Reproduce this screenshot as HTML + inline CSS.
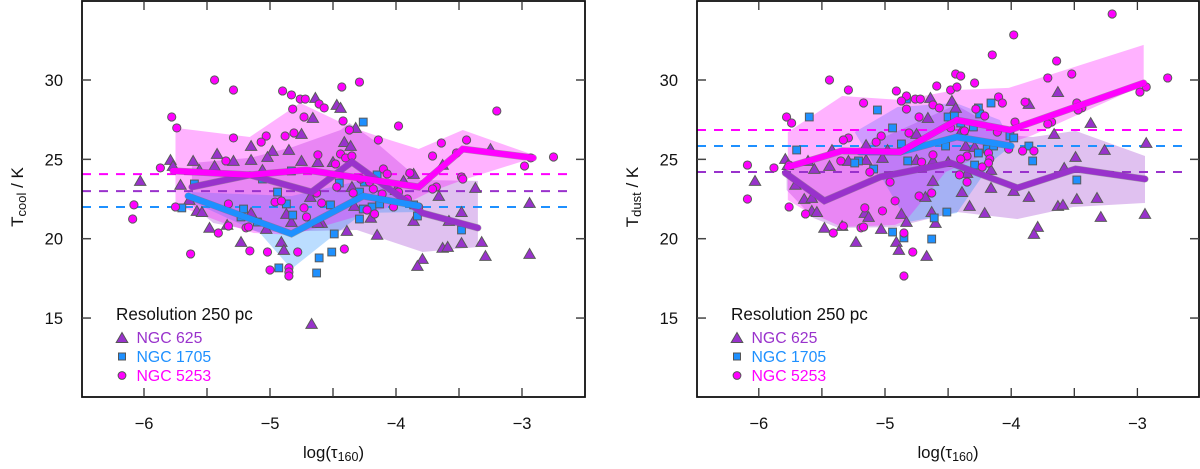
<!DOCTYPE html>
<html lang="en">
<head>
<meta charset="utf-8">
<title>Dust temperature versus optical depth</title>
<style>
html,body{margin:0;padding:0;background:#fff;width:1200px;height:469px;overflow:hidden}
svg{display:block;font-family:"Liberation Sans",Arial,sans-serif}
</style>
</head>
<body>
<svg id="chart" width="1200" height="469" viewBox="0 0 1200 469" xmlns="http://www.w3.org/2000/svg">
  <g id="panel-left"></g>
  <g id="panel-right"></g>

  <text x="23" y="197" transform="rotate(-90 23 197)" text-anchor="middle" font-size="17" fill="#111">T<tspan font-size="13" dy="3">cool</tspan><tspan dy="-3"> / K</tspan></text>
  <text x="638" y="197" transform="rotate(-90 638 197)" text-anchor="middle" font-size="17" fill="#111">T<tspan font-size="13" dy="3">dust</tspan><tspan dy="-3"> / K</tspan></text>
  <text x="333.5" y="458" text-anchor="middle" font-size="16.8" fill="#111">log(τ<tspan font-size="12.5" dy="3">160</tspan><tspan dy="-3">)</tspan></text>
  <text x="948" y="458" text-anchor="middle" font-size="16.8" fill="#111">log(τ<tspan font-size="12.5" dy="3">160</tspan><tspan dy="-3">)</tspan></text>

  <g>
    <text x="116" y="320" font-size="17.1" fill="#111">Resolution 250 pc</text>
    <polygon points="122,332.5 127.8,342.5 116.2,342.5" fill="#9932cc" stroke="#555" stroke-width="1"/>
    <text x="136.5" y="343" font-size="15.8" fill="#9932cc">NGC 625</text>
    <rect x="118.5" y="353" width="7" height="7" fill="#1e90ff" stroke="#555" stroke-width="1"/>
    <text x="136.5" y="362" font-size="15.8" fill="#1e90ff">NGC 1705</text>
    <circle cx="122" cy="375.5" r="3.9" fill="#ff00ff" stroke="#555" stroke-width="1"/>
    <text x="136.5" y="381" font-size="15.8" fill="#ff00ff">NGC 5253</text>
  </g>
  <g>
    <text x="731" y="320" font-size="17.1" fill="#111">Resolution 250 pc</text>
    <polygon points="737,332.5 742.8,342.5 731.2,342.5" fill="#9932cc" stroke="#555" stroke-width="1"/>
    <text x="751.5" y="343" font-size="15.8" fill="#9932cc">NGC 625</text>
    <rect x="733.5" y="353" width="7" height="7" fill="#1e90ff" stroke="#555" stroke-width="1"/>
    <text x="751.5" y="362" font-size="15.8" fill="#1e90ff">NGC 1705</text>
    <circle cx="737" cy="375.5" r="3.9" fill="#ff00ff" stroke="#555" stroke-width="1"/>
    <text x="751.5" y="381" font-size="15.8" fill="#ff00ff">NGC 5253</text>
  </g>
</svg>
<script>
// ---------- axis ticks ----------
const xTickValues = [-6.5,-6,-5.5,-5,-4.5,-4,-3.5,-3,-2.5];
const xTickLabels = ['−6','−5','−4','−3'];
const xTickLabelValues = [-6,-5,-4,-3];
const yTickValues = [15,20,25,30];
const yTickLabels = ['15','20','25','30'];

// ---------- T_cool panel: reference levels ----------
const coolMeanNgc625 = 23.0;
const coolMeanNgc1705 = 22.0;
const coolMeanNgc5253 = 24.07;

// ---------- T_cool panel: points ----------
const coolNgc625X = [-4.64,-4.47,-4.44,-4.66,-4.75,-4.85,-4.98,-5.02,-5.15,-5.15,-5.29,-5.42,-5.44,-5.61,-5.56,-5.79,-5.77,-6.03,-5.71,-4.75,-4.62,-4.50,-5.06,-4.68,-5.64,-5.58,-5.54,-5.48,-5.34,-5.23,-5.15,-5.03,-4.91,-4.89,-4.87,-4.83,-4.59,-4.62,-4.67,-4.32,-4.41,-4.36,-4.35,-3.94,-3.86,-3.63,-3.25,-3.66,-3.37,-4.0,-2.94,-3.48,-3.86,-3.58,-4.20,-4.33,-4.39,-4.15,-3.48,-3.32,-3.63,-3.59,-2.94,-3.29,-3.79,-3.83];
const coolNgc625Y = [28.87,28.43,28.24,27.61,26.60,25.59,25.53,25.15,25.84,24.96,24.90,25.34,24.58,24.90,24.33,24.96,24.58,23.64,23.39,24.90,24.83,24.83,24.33,22.63,22.44,21.75,21.68,20.68,20.87,19.79,21.62,20.61,19.79,19.29,21.56,21.05,20.99,20.99,14.63,26.98,26.09,25.84,23.26,23.64,24.08,24.65,25.65,22.69,23.20,23.07,22.25,21.68,21.12,21.12,21.31,22.06,20.49,20.24,19.73,19.79,19.42,19.48,19.04,18.91,18.72,18.28];
const coolNgc1705X = [-5.60,-4.94,-5.06,-4.83,-5.70,-5.21,-5.23,-5.10,-4.87,-4.82,-4.52,-4.49,-4.51,-4.61,-4.63,-4.93,-4.26,-4.15,-4.45,-4.29,-4.25,-4.26,-4.19,-4.13,-4.29,-3.83,-3.86,-3.48];
const coolNgc1705Y = [23.45,22.94,23.76,24.27,21.94,21.87,21.37,21.05,22.19,21.49,22.13,20.30,19.16,18.79,17.84,18.16,27.35,24.02,23.51,22.94,23.57,21.87,22.0,22.19,21.24,21.43,22.13,20.55];
const coolNgc5253X = [-5.44,-5.29,-4.90,-4.83,-4.76,-4.72,-4.61,-4.57,-4.82,-4.73,-5.78,-5.74,-5.29,-5.03,-5.07,-4.88,-4.81,-4.62,-5.35,-5.87,-4.48,-4.43,-4.29,-6.08,-6.09,-5.75,-5.33,-4.96,-4.91,-4.63,-4.59,-4.73,-4.47,-5.63,-5.41,-5.33,-5.19,-5.17,-5.16,-5.02,-4.78,-5.0,-4.85,-4.85,-4.85,-4.71,-4.42,-4.37,-3.98,-4.14,-3.20,-3.44,-3.64,-3.71,-4.44,-4.40,-4.35,-4.10,-4.07,-3.89,-3.52,-2.93,-2.75,-2.98,-3.48,-3.47,-3.68,-3.71,-4.18,-4.21,-4.28,-4.11,-3.98,-3.91,-4.34,-4.02,-3.82,-4.23,-4.17,-4.41];
const coolNgc5253Y = [30,29.37,29.31,29.06,28.80,28.80,28.49,28.24,28.17,27.67,27.67,26.98,26.35,26.47,26.09,26.47,26.66,25.28,24.90,24.46,24.71,29.56,29.87,22.13,21.24,22.0,22.19,22.31,22.38,22.88,22.25,21.94,23.26,19.04,20.36,20.80,20.68,20.74,19.23,19.16,19.16,18.03,18.16,17.90,17.65,21.37,27.42,26.85,27.10,26.22,28.05,26.22,26.03,25.21,25.34,25.09,25.21,24.39,24.08,24.14,25.40,25.09,25.15,24.58,23.89,23.76,23.26,23.13,23.13,23.57,23.76,22.82,22.94,22.50,22.88,22.0,22.0,21.81,21.56,19.35];

// ---------- T_cool panel: median lines ----------
const coolLineNgc625X = [-5.62,-5.16,-4.67,-4.35,-3.79,-3.35];
const coolLineNgc625Y = [23.26,24.02,22.94,24.83,21.62,20.68];
const coolLineNgc1705X = [-5.65,-4.83,-4.26,-3.82];
const coolLineNgc1705Y = [22.69,20.30,22.69,22.06];
const coolLineNgc5253X = [-5.77,-5.16,-4.71,-3.82,-3.47,-2.91];
const coolLineNgc5253Y = [24.27,24.02,24.33,23.26,25.65,25.09];

// ---------- T_cool panel: shaded ranges ----------
const coolBandNgc625UpperX = [-5.62,-5.16,-4.82,-4.44,-4.37,-4.18,-3.81,-3.35];
const coolBandNgc625UpperY = [24.77,25.09,25.78,26.85,27.29,26.22,23.70,23.64];
const coolBandNgc625LowerX = [-5.62,-5.45,-5.08,-4.31,-3.79,-3.35];
const coolBandNgc625LowerY = [22.13,20.99,20.42,20.55,19.16,19.48];
const coolBandNgc1705UpperX = [-5.65,-4.83,-4.26,-3.82];
const coolBandNgc1705UpperY = [22.94,22.69,23.70,22.25];
const coolBandNgc1705LowerX = [-5.65,-5.08,-4.83,-4.52,-4.26,-3.81];
const coolBandNgc1705LowerY = [22.44,20.36,18.09,20.05,21.62,21.68];
const coolBandNgc5253UpperX = [-5.75,-5.16,-4.76,-4.36,-4.05,-3.82,-3.47,-2.91];
const coolBandNgc5253UpperY = [26.98,26.41,28.55,27.04,26.22,25.65,26.85,25.28];
const coolBandNgc5253LowerX = [-5.75,-5.37,-5.13,-4.83,-4.60,-3.86,-3.75,-3.47,-2.91];
const coolBandNgc5253LowerY = [22.13,20.99,20.36,20.24,20.74,22.44,22.88,23.70,25.09];

// ---------- T_dust panel: reference levels ----------
const dustMeanNgc625 = 24.2;
const dustMeanNgc1705 = 25.84;
const dustMeanNgc5253 = 26.85;

// ---------- T_dust panel: points ----------
const dustNgc625X = [-4.64,-4.47,-4.44,-4.66,-4.75,-5.15,-4.98,-5.02,-5.15,-5.29,-5.42,-5.44,-5.61,-5.56,-5.79,-5.77,-4.75,-4.62,-4.50,-6.03,-5.71,-5.64,-5.58,-5.58,-5.54,-5.48,-5.34,-5.23,-5.16,-5.13,-5.03,-4.91,-4.89,-4.87,-4.83,-4.68,-4.62,-4.63,-4.60,-4.67,-4.39,-4.36,-4.29,-3.86,-3.63,-3.37,-3.66,-3.49,-3.26,-2.93,-3.58,-4.16,-4.35,-4.39,-4.16,-3.98,-3.86,-4.33,-4.21,-3.63,-3.59,-3.48,-3.32,-3.29,-2.94,-3.79,-3.82];
const dustNgc625Y = [28.87,28.68,28.24,27.61,26.60,25.90,25.59,25.09,24.96,24.90,25.59,24.58,24.90,24.39,25.02,24.64,24.96,24.90,24.83,23.64,23.39,22.50,22.57,21.75,21.68,20.68,20.80,19.79,21.62,21.37,20.61,19.79,19.29,21.56,21.05,22.63,23.64,21.68,20.99,18.91,26.85,25.84,25.78,28.49,29.24,27.29,26.60,25.15,25.59,26.03,24.46,24.33,24.14,22.94,23.20,23.01,22.63,22.06,21.62,22.06,22.13,22.50,22.57,21.37,21.56,20.74,20.30];
const dustNgc1705X = [-5.60,-5.06,-4.94,-4.83,-4.50,-4.45,-5.70,-4.87,-5.21,-5.24,-4.82,-5.09,-4.51,-4.61,-4.63,-4.94,-4.85,-4.16,-4.26,-4.25,-4.40,-4.30,-4.01,-3.98,-4.52,-3.86,-4.19,-4.14,-4.26,-3.83,-4.29,-3.48];
const dustNgc1705Y = [27.67,28.11,26.98,28.80,27.67,27.73,25.59,25.97,24.90,24.77,24.90,24.39,21.68,21.31,19.98,20.42,20.05,28.55,28.24,27.86,27.29,27.04,26.47,26.35,25.84,25.84,25.65,25.84,25.40,24.90,24.64,23.70];
const dustNgc5253X = [-5.44,-5.29,-4.91,-4.83,-4.87,-4.76,-4.72,-4.62,-4.57,-4.83,-4.73,-5.17,-5.78,-5.74,-4.59,-4.48,-4.44,-4.40,-4.43,-5.03,-5.07,-5.29,-5.33,-4.81,-4.62,-5.35,-6.09,-5.88,-4.71,-6.09,-5.76,-5.63,-5.76,-5.12,-4.96,-4.92,-5.16,-5.02,-4.73,-4.63,-5.41,-5.33,-5.19,-5.17,-4.85,-4.78,-4.85,-3.20,-3.98,-4.15,-3.64,-3.52,-3.71,-2.76,-4.29,-4.10,-4.07,-3.89,-4.28,-4.21,-3.48,-3.44,-3.47,-2.98,-2.93,-3.97,-3.68,-3.71,-4.11,-4.37,-4.48,-4.02,-3.91,-3.82,-4.18,-4.17,-4.18,-4.23,-4.35,-4.40,-4.41,-4.35];
const dustNgc5253Y = [30,29.37,29.31,28.99,28.68,28.80,28.80,28.43,28.24,28.17,27.67,28.55,27.67,27.29,29.62,29.37,30.38,30.25,29.56,26.47,26.09,26.35,26.22,26.66,25.28,24.90,24.64,24.46,24.83,22.50,22.0,21.56,24.64,24.20,23.57,22.38,21.94,21.75,22.69,22.88,20.36,20.80,20.68,20.74,20.36,19.16,17.65,34.16,32.84,31.58,31.20,30.38,30.13,30.13,29.81,28.93,28.55,28.61,28.17,27.73,28.55,28.24,28.11,29.24,29.56,27.35,27.35,27.23,26.72,26.79,26.98,25.65,25.53,25.53,25.40,25.02,24.77,24.52,25.21,25.02,24.02,23.57];

// ---------- T_dust panel: median lines ----------
const dustLineNgc625X = [-5.79,-5.48,-5.04,-4.48,-3.95,-3.49,-2.94];
const dustLineNgc625Y = [24.14,22.38,23.89,24.77,23.20,24.39,23.76];
const dustLineNgc1705X = [-5.20,-4.88,-4.43,-4.0];
const dustLineNgc1705Y = [25.46,25.46,26.41,25.84];
const dustLineNgc5253X = [-5.77,-5.34,-4.88,-4.43,-4.01,-2.95];
const dustLineNgc5253Y = [24.52,25.53,25.46,27.48,26.85,29.81];

// ---------- T_dust panel: shaded ranges ----------
const dustBandNgc625UpperX = [-5.78,-5.34,-4.88,-4.44,-4.01,-3.83,-3.49,-2.94];
const dustBandNgc625UpperY = [24.46,25.28,26.85,28.43,26.53,26.41,26.79,25.21];
const dustBandNgc625LowerX = [-5.78,-5.57,-5.37,-4.92,-4.43,-3.95,-3.51,-2.94];
const dustBandNgc625LowerY = [23.07,21.31,20.68,20.74,21.68,21.24,22.0,22.25];
const dustBandNgc1705UpperX = [-5.24,-4.90,-4.44,-4.09,-3.99];
const dustBandNgc1705UpperY = [26.72,28.30,28.55,27.48,25.90];
const dustBandNgc1705LowerX = [-5.24,-4.82,-4.43,-4.14,-3.99];
const dustBandNgc1705LowerY = [26.72,21.05,21.62,24.96,25.90];
const dustBandNgc5253UpperX = [-5.77,-5.34,-4.87,-4.44,-4.02,-2.95];
const dustBandNgc5253UpperY = [26.72,28.99,28.74,29.37,29.50,32.21];
const dustBandNgc5253LowerX = [-5.77,-5.64,-5.34,-4.92,-4.83,-4.52,-4.01,-3.83,-2.95];
const dustBandNgc5253LowerY = [22.44,21.81,20.74,20.87,21.18,24.20,26.03,26.53,29.69];

const PURPLE = '#9932cc', BLUE = '#1e90ff', MAGENTA = '#ff00ff', EDGE = '#5a5a5a';
const NS = 'http://www.w3.org/2000/svg';

function node(parent, tag, attrs) {
  const el = document.createElementNS(NS, tag);
  for (const k in attrs) el.setAttribute(k, attrs[k]);
  parent.appendChild(el);
  return el;
}

const yScale = v => 80 + (30 - v) * 15.87;

function drawPanel(root, cfg) {
  const xScale = v => cfg.origin + (v + 5) * cfg.unit;
  const pts = (xs, ys) => xs.map((x, i) => xScale(x).toFixed(1) + ',' + yScale(ys[i]).toFixed(1));

  // shaded ranges
  cfg.bands.forEach(b => {
    const d = pts(b.ux, b.uy).concat(pts(b.lx, b.ly).reverse()).join(' ');
    const el = node(root, 'polygon', {points: d, fill: b.color, 'fill-opacity': 0.3, stroke: 'none'});
    
    
  });

  // dashed reference levels
  cfg.means.forEach(m => {
    const yy = yScale(m.value);
    const el = node(root, 'line', {x1: cfg.left, x2: cfg.dashEnd, y1: yy, y2: yy, stroke: m.color, 'stroke-width': 2, 'stroke-dasharray': '9 8'});
    
    
  });

  // NGC 625 triangles
  cfg.tri.x.forEach((x, i) => {
    const cx = xScale(x), cy = yScale(cfg.tri.y[i]);
    const el = node(root, 'polygon', {
      points: cx + ',' + (cy - 5.4) + ' ' + (cx + 5.7) + ',' + (cy + 4.4) + ' ' + (cx - 5.7) + ',' + (cy + 4.4),
      fill: PURPLE, stroke: EDGE, 'stroke-width': 1
    });
    
    
  });

  // NGC 1705 squares
  cfg.sq.x.forEach((x, i) => {
    const cx = xScale(x), cy = yScale(cfg.sq.y[i]);
    const el = node(root, 'rect', {x: cx - 3.9, y: cy - 3.9, width: 7.8, height: 7.8, fill: BLUE, stroke: EDGE, 'stroke-width': 1});
    
    
  });

  // NGC 5253 circles
  cfg.circ.x.forEach((x, i) => {
    const el = node(root, 'circle', {cx: xScale(x), cy: yScale(cfg.circ.y[i]), r: 4.1, fill: MAGENTA, stroke: EDGE, 'stroke-width': 1});
    
    
  });

  // median lines
  cfg.lines.forEach(l => {
    const d = pts(l.x, l.y).join(' ');
    const under = node(root, 'polyline', {points: d, fill: 'none', stroke: '#666', 'stroke-opacity': 0.55, 'stroke-width': 7, 'stroke-linejoin': 'miter', 'stroke-linecap': 'round'});
    
    
    const el = node(root, 'polyline', {points: d, fill: 'none', stroke: l.color, 'stroke-width': 6, 'stroke-linejoin': 'miter', 'stroke-linecap': 'round'});
    
    
  });

  // frame
  const frame = node(root, 'rect', {x: cfg.left, y: 1, width: cfg.right - cfg.left, height: 396, fill: 'none', stroke: '#111', 'stroke-width': 1.8});
  
  

  // x ticks
  xTickValues.forEach(v => {
    const px = xScale(v);
    if (px <= cfg.left + 2 || px >= cfg.right - 2) return;
    const b = node(root, 'line', {x1: px, x2: px, y1: 397, y2: 388, stroke: '#333', 'stroke-width': 1.3});
    
    
    const t = node(root, 'line', {x1: px, x2: px, y1: 1, y2: 10, stroke: '#333', 'stroke-width': 1.3});
    
    
  });
  xTickLabelValues.forEach((v, i) => {
    const t = node(root, 'text', {x: xScale(v), y: 429, 'text-anchor': 'middle', 'font-size': 16.5, fill: '#111'});
    t.textContent = xTickLabels[i];
    
    
  });

  // y ticks
  yTickValues.forEach((v, i) => {
    const py = yScale(v);
    const a = node(root, 'line', {x1: cfg.left, x2: cfg.left + 9, y1: py, y2: py, stroke: '#444', 'stroke-width': 1.5});
    
    
    const b = node(root, 'line', {x1: cfg.right, x2: cfg.right - 9, y1: py, y2: py, stroke: '#444', 'stroke-width': 1.5});
    
    
    const t = node(root, 'text', {x: cfg.left - 19, y: py + 6, 'text-anchor': 'end', 'font-size': 16.5, fill: '#111'});
    t.textContent = yTickLabels[i];
    
    
  });
}

drawPanel(document.getElementById('panel-left'), {
  origin: 270, unit: 126, left: 82, right: 585, dashEnd: 572,
  bands: [
    {color: PURPLE, ux: coolBandNgc625UpperX, uy: coolBandNgc625UpperY, lx: coolBandNgc625LowerX, ly: coolBandNgc625LowerY},
    {color: BLUE, ux: coolBandNgc1705UpperX, uy: coolBandNgc1705UpperY, lx: coolBandNgc1705LowerX, ly: coolBandNgc1705LowerY},
    {color: MAGENTA, ux: coolBandNgc5253UpperX, uy: coolBandNgc5253UpperY, lx: coolBandNgc5253LowerX, ly: coolBandNgc5253LowerY}
  ],
  means: [
    {value: coolMeanNgc625, color: PURPLE},
    {value: coolMeanNgc1705, color: BLUE},
    {value: coolMeanNgc5253, color: MAGENTA}
  ],
  tri: {x: coolNgc625X, y: coolNgc625Y},
  sq: {x: coolNgc1705X, y: coolNgc1705Y},
  circ: {x: coolNgc5253X, y: coolNgc5253Y},
  lines: [
    {color: PURPLE, x: coolLineNgc625X, y: coolLineNgc625Y},
    {color: BLUE, x: coolLineNgc1705X, y: coolLineNgc1705Y},
    {color: MAGENTA, x: coolLineNgc5253X, y: coolLineNgc5253Y}
  ]
});

drawPanel(document.getElementById('panel-right'), {
  origin: 885, unit: 126.2, left: 697, right: 1199, dashEnd: 1186,
  bands: [
    {color: PURPLE, ux: dustBandNgc625UpperX, uy: dustBandNgc625UpperY, lx: dustBandNgc625LowerX, ly: dustBandNgc625LowerY},
    {color: BLUE, ux: dustBandNgc1705UpperX, uy: dustBandNgc1705UpperY, lx: dustBandNgc1705LowerX, ly: dustBandNgc1705LowerY},
    {color: MAGENTA, ux: dustBandNgc5253UpperX, uy: dustBandNgc5253UpperY, lx: dustBandNgc5253LowerX, ly: dustBandNgc5253LowerY}
  ],
  means: [
    {value: dustMeanNgc625, color: PURPLE},
    {value: dustMeanNgc1705, color: BLUE},
    {value: dustMeanNgc5253, color: MAGENTA}
  ],
  tri: {x: dustNgc625X, y: dustNgc625Y},
  sq: {x: dustNgc1705X, y: dustNgc1705Y},
  circ: {x: dustNgc5253X, y: dustNgc5253Y},
  lines: [
    {color: PURPLE, x: dustLineNgc625X, y: dustLineNgc625Y},
    {color: BLUE, x: dustLineNgc1705X, y: dustLineNgc1705Y},
    {color: MAGENTA, x: dustLineNgc5253X, y: dustLineNgc5253Y}
  ]
});
</script>
</body>
</html>
